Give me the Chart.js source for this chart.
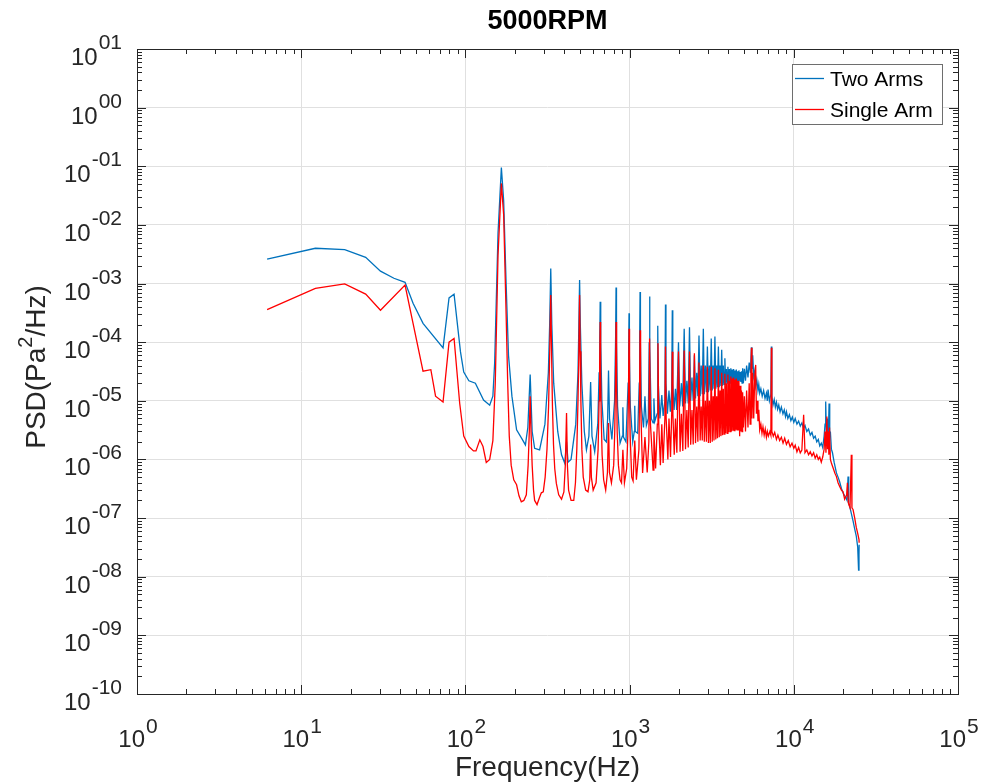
<!DOCTYPE html>
<html>
<head>
<meta charset="utf-8">
<title>5000RPM</title>
<script src="https://cdn.jsdelivr.net/npm/chart.js@4"></script>
<style>
  body { margin: 0; background: #ffffff; }
  canvas { display: block; }
</style>
</head>
<body>
<canvas id="psdChart" width="982" height="784"></canvas>
<script>
// Axis decades (exponents) and how MATLAB prints them
const xTickExps = [0, 1, 2, 3, 4, 5];
const xTickLabels = ["0", "1", "2", "3", "4", "5"];
const yTickExps = [1, 0, -1, -2, -3, -4, -5, -6, -7, -8, -9, -10];
const yTickLabels = ["01", "00", "-01", "-02", "-03", "-04", "-05", "-06", "-07", "-08", "-09", "-10"];

const seriesNames = ["Two Arms", "Single Arm"];
const seriesColors = ["#0072BD", "#FF0000"];

// [frequency Hz, PSD Pa^2/Hz]
const twoArms = [
  [6.2, 2.6e-3], [12.2, 4.0e-3], [18.4, 3.8e-3], [24.7, 2.8e-3], [30.4, 1.63e-3], [36.7, 1.23e-3],
  [42.9, 1.05e-3], [48, 4.6e-4], [55.2, 2.1e-4], [73.1, 8e-5], [79.5, 5.7e-4], [85.3, 6.6e-4],
  [93.3, 6.9e-5], [97.7, 3.1e-5], [105, 2.2e-5], [115, 2.0e-5], [129, 1.03e-5], [140.6, 8.4e-6],
  [147, 1.2e-5], [150.7, 4.4e-5], [158, 7.2e-3], [165.6, 0.095], [171, 2.6e-2], [177, 1e-3],
  [183, 6e-5], [192, 1.2e-5], [205, 3.2e-6], [222, 2.2e-6], [232, 1.77e-6], [240, 3.5e-6],
  [248, 2.8e-5], [255, 3e-6], [264, 1.55e-6], [283, 1.46e-6], [305, 4e-6], [320, 3e-5],
  [326, 2e-4], [331, 1.8e-3], [336, 2e-4], [345, 2e-5], [365, 3e-6], [385, 1.2e-6],
  [403, 8.6e-7], [413, 2e-6], [422, 9e-7], [440, 1e-6], [470, 4e-6], [485, 3e-5],
  [491, 2e-4], [496, 1.15e-3], [501, 2e-4], [512, 2e-5], [530, 3e-6], [546, 1.46e-6],
  [565, 2.5e-6], [579, 2.1e-5], [590, 2.5e-6], [613, 1.36e-6], [640, 4e-6], [652, 3e-5],
  [658, 1e-4], [662, 4.9e-4], [667, 1e-4], [678, 1e-5], [700, 2.2e-6], [722, 2e-6],
  [735, 5e-6], [744, 3.3e-5], [755, 5e-6], [780, 2.2e-6], [810, 1e-5], [822, 1.2e-4],
  [827, 8.6e-4], [832, 1e-4], [845, 8e-6], [875, 1.9e-6], [903, 2.5e-6], [910, 7.8e-6],
  [918, 2.4e-6], [950, 2e-6], [980, 2e-5], [987, 8e-5], [992, 3.1e-4], [997, 6e-5],
  [1010, 8e-6], [1045, 2e-6], [1068, 3e-6], [1075, 8.2e-6], [1083, 3e-6], [1120, 2.8e-6],
  [1145, 2e-5], [1152, 1.2e-4], [1158, 7.2e-4], [1164, 1e-4], [1180, 8e-6], [1215, 3.5e-6],
  [1240, 1.2e-5], [1265, 3.8e-6], [1300, 5e-6], [1317, 1e-4], [1323, 6e-4], [1330, 8e-5],
  [1355, 5e-6], [1390, 4.2e-6], [1406, 1.1e-5], [1425, 4.5e-6], [1470, 6e-6], [1484, 1.9e-4],
  [1495, 2e-5], [1530, 5e-6], [1571, 1.25e-5], [1600, 5.5e-6], [1640, 1e-5], [1654, 4.4e-4],
  [1665, 2e-5], [1700, 6e-6], [1737, 1.5e-5], [1770, 6.5e-6], [1805, 1.5e-5], [1820, 3.5e-4],
  [1832, 2e-5], [1865, 7e-6], [1902, 1.6e-5], [1935, 7e-6], [1985, 1e-4], [2020, 8e-6],
  [2068, 2e-5], [2105, 8e-6], [2150, 1.7e-4], [2190, 9e-6], [2233, 2.2e-5], [2275, 9e-6],
  [2316, 1.8e-4], [2355, 1e-5], [2398, 2.5e-5], [2440, 1e-5], [2481, 6e-5], [2520, 1.1e-5],
  [2564, 3e-5], [2605, 1.2e-5], [2646, 1.3e-4], [2690, 1.2e-5], [2729, 4e-5], [2770, 1.3e-5],
  [2812, 1.7e-4], [2850, 1.3e-5], [2894, 4e-5], [2935, 1.4e-5], [2977, 8.4e-5], [3020, 1.4e-5],
  [3060, 4e-5], [3100, 1.5e-5], [3142, 1.16e-4], [3185, 1.5e-5], [3225, 4e-5], [3265, 1.6e-5],
  [3308, 1.25e-4], [3350, 1.6e-5], [3390, 4e-5], [3430, 1.7e-5], [3473, 8.4e-5], [3515, 1.7e-5],
  [3556, 4e-5], [3597, 1.8e-5], [3638, 7.4e-5], [3680, 1.8e-5], [3721, 4e-5], [3760, 1.9e-5],
  [3804, 5.3e-5], [3845, 1.9e-5], [3887, 3.5e-5], [3930, 2e-5], [3969, 3.8e-5], [4010, 2e-5],
  [4052, 3.5e-5], [4095, 2e-5], [4135, 3.6e-5], [4175, 2e-5], [4218, 3.4e-5], [4260, 2.1e-5],
  [4300, 3.5e-5], [4340, 2.1e-5], [4383, 3.3e-5], [4425, 2.1e-5], [4466, 3.4e-5], [4510, 2.1e-5],
  [4550, 3.2e-5], [4590, 2.2e-5], [4632, 3.3e-5], [4680, 2.2e-5], [4715, 3.1e-5], [4760, 2.1e-5],
  [4800, 3.2e-5], [4840, 2e-5], [4880, 3.6e-5], [4930, 2e-5], [5000, 3.5e-5], [5080, 2.2e-5],
  [5160, 4e-5], [5260, 2.5e-5], [5350, 4.5e-5], [5440, 3e-5], [5520, 8.2e-5], [5560, 3.5e-5],
  [5620, 6e-5], [5700, 2.6e-5], [5780, 3.2e-5], [5860, 1.8e-5], [5950, 2.3e-5], [6050, 1.5e-5],
  [6120, 1.9e-5], [6200, 1.35e-5], [6300, 1.6e-5], [6420, 1.2e-5], [6550, 1.5e-5], [6680, 1.1e-5],
  [6810, 1.35e-5], [6900, 1.0e-5], [6970, 1.55e-5], [7100, 1.0e-5], [7250, 1.3e-5], [7300, 8.4e-5],
  [7350, 1.2e-5], [7470, 8.5e-6], [7600, 1.05e-5], [7720, 7.8e-6], [7840, 9.5e-6], [7970, 7.2e-6],
  [8100, 8.5e-6], [8250, 6.5e-6], [8400, 7.8e-6], [8590, 6e-6], [8750, 7e-6], [8900, 5.4e-6],
  [9020, 6.5e-6], [9200, 5e-6], [9400, 5.8e-6], [9600, 4.6e-6], [9800, 5.3e-6], [10000, 4.3e-6],
  [10200, 5e-6], [10450, 4e-6], [10700, 4.5e-6], [10950, 3.7e-6], [11200, 4.2e-6], [11450, 3.4e-6],
  [11700, 3.8e-6], [12000, 3e-6], [12300, 3.3e-6], [12600, 2.6e-6], [12900, 2.9e-6], [13200, 2.3e-6],
  [13500, 2.5e-6], [13800, 2e-6], [14100, 2.2e-6], [14390, 1.7e-6], [14700, 1.9e-6], [15000, 1.6e-6],
  [15300, 2.5e-6], [15500, 4e-6], [15640, 9.7e-6], [15800, 2.5e-6], [16000, 5e-6], [16200, 2e-6],
  [16400, 9e-6], [16550, 2.5e-6], [16700, 3e-6], [16940, 1.5e-6], [17200, 1.3e-6], [17600, 9e-7],
  [18180, 5.9e-7], [18600, 5e-7], [19000, 4.2e-7], [19500, 3.2e-7], [19950, 2.7e-7], [20400, 2.4e-7],
  [20800, 2.2e-7], [21100, 2e-7], [21400, 5.1e-7], [21600, 1.8e-7], [22000, 1.5e-7], [22400, 1.2e-7],
  [22950, 9e-8], [23500, 6.5e-8], [24000, 5e-8], [24500, 3.2e-8], [24800, 1.3e-8], [24950, 2.4e-8],
  [25000, 3.5e-8]
];

const singleArm = [
  [6.2, 3.6e-4], [12.2, 8.3e-4], [18.4, 9.9e-4], [24.7, 6.6e-4], [30.4, 3.5e-4], [42.9, 9.4e-4],
  [48, 2.1e-4], [55.2, 3.2e-5], [61.6, 3.4e-5], [65.8, 1.2e-5], [73.1, 9.5e-6], [79.5, 1.0e-4],
  [85.3, 1.16e-4], [92.3, 9.1e-6], [97.7, 2.5e-6], [105, 1.66e-6], [112, 1.4e-6], [116, 1.4e-6],
  [122.4, 2.16e-6], [128, 1.66e-6], [134, 8.9e-7], [140.6, 1.0e-6], [147, 2.1e-6], [152, 2e-5],
  [158, 3e-3], [165.6, 0.051], [171, 1.5e-2], [177, 3e-4], [181, 2e-5], [185, 2.5e-6],
  [190, 8e-7], [197, 4.5e-7], [205, 3.7e-7], [212, 2.4e-7], [219, 1.9e-7], [227, 2e-7],
  [235, 2.5e-7], [241, 8e-7], [245, 3e-6], [248, 1.2e-5], [251, 3e-6], [255, 8e-7],
  [260, 3e-7], [264, 2e-7], [273, 1.7e-7], [282, 2.2e-7], [290, 2.7e-7], [298, 2.8e-7],
  [306, 5e-7], [314, 1.5e-6], [321, 8e-6], [326, 6e-5], [331, 6.4e-4], [335, 6e-5],
  [339, 8e-6], [344, 1.8e-6], [350, 7e-7], [358, 3.9e-7], [370, 2.5e-7], [385, 2.1e-7],
  [398, 2.8e-7], [406, 8e-7], [413, 6.2e-6], [418, 8e-7], [425, 3e-7], [440, 2e-7],
  [457, 2e-7], [468, 4e-7], [477, 1.5e-6], [485, 1e-5], [491, 7e-5], [496, 6.4e-4],
  [500, 7e-5], [505, 1e-5], [512, 1.5e-6], [522, 5e-7], [540, 3e-7], [558, 2.8e-7],
  [572, 4.5e-7], [579, 1.8e-6], [585, 5e-7], [600, 3e-7], [625, 4e-7], [643, 1.5e-6],
  [652, 1e-5], [657, 4e-5], [662, 2.2e-4], [666, 3e-5], [672, 5e-6], [680, 1.2e-6],
  [695, 4.5e-7], [715, 3e-7], [733, 6e-7], [744, 4.2e-6], [754, 6e-7], [775, 4e-7],
  [800, 8e-7], [812, 3e-6], [820, 2e-5], [827, 2.2e-4], [833, 2e-5], [840, 3e-6],
  [855, 8e-7], [875, 4.5e-7], [893, 4e-7], [910, 1.46e-6], [930, 4e-7], [960, 7e-7],
  [975, 2.5e-6], [985, 1.5e-5], [992, 1.7e-4], [999, 1.5e-5], [1008, 2.5e-6], [1030, 5e-7],
  [1050, 4.3e-7], [1075, 2.1e-6], [1100, 4.5e-7], [1140, 1.5e-6], [1150, 1.5e-5], [1158, 1.6e-4],
  [1166, 1e-5], [1200, 5.9e-7], [1240, 2.4e-6], [1280, 6e-7], [1310, 2e-6], [1323, 1.16e-4],
  [1340, 4e-6], [1390, 6.6e-7], [1406, 3e-6], [1440, 7e-7], [1475, 4e-6], [1489, 9.6e-5],
  [1505, 4e-6], [1540, 8e-7], [1571, 4e-6], [1600, 8.7e-7], [1640, 5e-6], [1654, 8.4e-5],
  [1670, 5e-6], [1710, 1e-6], [1737, 5e-6], [1775, 1.1e-6], [1805, 6e-6], [1820, 6.9e-5],
  [1835, 6e-6], [1870, 1.2e-6], [1902, 5e-6], [1940, 1.3e-6], [1985, 6.9e-5], [2030, 1.36e-6],
  [2068, 6e-6], [2110, 1.4e-6], [2150, 7.2e-5], [2190, 1.5e-6], [2233, 7e-6], [2275, 1.6e-6],
  [2316, 6.9e-5], [2355, 1.78e-6], [2398, 7e-6], [2440, 1.8e-6], [2481, 6.5e-5], [2520, 1.9e-6],
  [2564, 8e-6], [2605, 2e-6], [2646, 4.5e-5], [2690, 2.1e-6], [2729, 8e-6], [2770, 2.1e-6],
  [2812, 4e-5], [2850, 2e-6], [2894, 1e-5], [2935, 2e-6], [2977, 3.8e-5], [3020, 1.9e-6],
  [3060, 1e-5], [3100, 1.9e-6], [3142, 3.8e-5], [3185, 2e-6], [3225, 1.2e-5], [3265, 2.1e-6],
  [3308, 3.6e-5], [3350, 2.2e-6], [3390, 1.2e-5], [3430, 2.3e-6], [3473, 3.4e-5], [3515, 2.4e-6],
  [3556, 1.5e-5], [3597, 2.5e-6], [3638, 3e-5], [3680, 2.6e-6], [3721, 1.6e-5], [3760, 2.7e-6],
  [3804, 2.9e-5], [3845, 2.8e-6], [3887, 2e-5], [3930, 2.8e-6], [3969, 2.8e-5], [4010, 2.9e-6],
  [4052, 2.2e-5], [4095, 3e-6], [4135, 2.6e-5], [4175, 3e-6], [4218, 2.4e-5], [4260, 3.1e-6],
  [4300, 2.5e-5], [4340, 3.1e-6], [4383, 2.3e-5], [4425, 3.2e-6], [4466, 2.4e-5], [4510, 3.2e-6],
  [4550, 2.2e-5], [4590, 3.2e-6], [4632, 2.2e-5], [4680, 2.5e-6], [4715, 1.8e-5], [4760, 3e-6],
  [4800, 1.5e-5], [4840, 3e-6], [4880, 1.4e-5], [4930, 3.5e-6], [5000, 1.2e-5], [5080, 3e-6],
  [5160, 1.5e-5], [5260, 3.5e-6], [5350, 2e-5], [5420, 4e-6], [5480, 3e-5], [5520, 8e-5],
  [5560, 5e-6], [5620, 3e-5], [5700, 5e-6], [5780, 2.5e-5], [5860, 4.1e-5], [5920, 6e-6],
  [6000, 1e-5], [6050, 4.5e-6], [6120, 7e-6], [6200, 3.2e-6], [6300, 4e-6], [6400, 2.8e-6],
  [6490, 3.6e-6], [6600, 2.6e-6], [6700, 3.3e-6], [6810, 2.4e-6], [6900, 3e-6], [7000, 2.5e-6],
  [7150, 3e-6], [7250, 2.6e-6], [7300, 8e-5], [7350, 3e-6], [7500, 2.5e-6], [7650, 2.9e-6],
  [7840, 2.2e-6], [8000, 2.6e-6], [8200, 2.1e-6], [8400, 2.4e-6], [8600, 1.9e-6], [8800, 2.3e-6],
  [9020, 1.8e-6], [9250, 2.1e-6], [9500, 1.65e-6], [9750, 1.9e-6], [10000, 1.55e-6], [10200, 1.75e-6],
  [10450, 1.35e-6], [10700, 1.6e-6], [10950, 1.3e-6], [11200, 1.45e-6], [11480, 5.8e-6], [11700, 1.3e-6],
  [12000, 1.45e-6], [12300, 1.2e-6], [12600, 1.35e-6], [12900, 1.15e-6], [13200, 1.3e-6], [13500, 1.05e-6],
  [13800, 1.2e-6], [14100, 1.0e-6], [14390, 1.1e-6], [14700, 9e-7], [15000, 1.1e-6], [15300, 1.5e-6],
  [15500, 3e-6], [15700, 1.3e-6], [15900, 5.4e-6], [16050, 1.5e-6], [16200, 3e-6], [16350, 1.2e-6],
  [16500, 3.5e-6], [16700, 1e-6], [16940, 8.7e-7], [17400, 7e-7], [17800, 5.8e-7], [18180, 5.1e-7],
  [18600, 4e-7], [19000, 3.5e-7], [19500, 3e-7], [19950, 2.8e-7], [20400, 2.1e-7], [21000, 2.5e-7],
  [21200, 4e-7], [21500, 1.8e-7], [22000, 1.5e-7], [22400, 1.2e-6], [22600, 1.5e-7], [22950, 1.4e-7],
  [23500, 1e-7], [24000, 7e-8], [24500, 5.5e-8], [24950, 4.3e-8], [25000, 3.8e-8]
];

const FONT = '"Liberation Sans", Arial, Helvetica, sans-serif';
const AXIS_COLOR = "#262626";

function toPoints(pairs) {
    return pairs.map(p => ({ x: p[0], y: p[1] }));
}

// "10" with a raised exponent, MATLAB style
function drawPower(ctx, exp, x, baseY, supY, align) {
    ctx.font = "24px " + FONT;
    const wBase = ctx.measureText("10").width;
    ctx.font = "21px " + FONT;
    const wExp = ctx.measureText(exp).width;
    const total = wBase + 1 + wExp;
    const x0 = align === "right" ? x - total : x - total / 2;
    ctx.textAlign = "left";
    ctx.textBaseline = "alphabetic";
    ctx.font = "24px " + FONT;
    ctx.fillText("10", x0, baseY);
    ctx.font = "21px " + FONT;
    ctx.fillText(exp, x0 + wBase + 1, supY);
}

// box, inward ticks, tick labels, titles and legend
const matlabAxes = {
    id: "matlabAxes",
    afterDraw(chart) {
        const ctx = chart.ctx;
        const area = chart.chartArea;
        const xs = chart.scales.x;
        const ys = chart.scales.y;
        ctx.save();

        ctx.strokeStyle = AXIS_COLOR;
        ctx.lineWidth = 1;
        ctx.beginPath();
        // x ticks, bottom and top
        xTickExps.forEach((e, i) => {
            for (let k = 1; k <= 9; k++) {
                if (i === xTickExps.length - 1 && k > 1) break;
                const px = Math.round(xs.getPixelForValue(k * Math.pow(10, e))) + 0.5;
                const len = k === 1 ? 9 : 5;
                ctx.moveTo(px, area.bottom); ctx.lineTo(px, area.bottom - len);
                ctx.moveTo(px, area.top); ctx.lineTo(px, area.top + len);
            }
        });
        // y ticks, left and right
        yTickExps.forEach((e, i) => {
            for (let k = 1; k <= 9; k++) {
                if (i === 0 && k > 1) break;
                const py = Math.round(ys.getPixelForValue(k * Math.pow(10, e))) + 0.5;
                const len = k === 1 ? 9 : 5;
                ctx.moveTo(area.left, py); ctx.lineTo(area.left + len, py);
                ctx.moveTo(area.right, py); ctx.lineTo(area.right - len, py);
            }
        });
        ctx.stroke();
        ctx.strokeRect(Math.round(area.left) + 0.5, Math.round(area.top) + 0.5,
            Math.round(area.right - area.left), Math.round(area.bottom - area.top));

        // tick labels
        ctx.fillStyle = AXIS_COLOR;
        xTickExps.forEach((e, i) => {
            const px = xs.getPixelForValue(Math.pow(10, e));
            drawPower(ctx, xTickLabels[i], px + 1, 747, 733, "center");
        });
        yTickExps.forEach((e, i) => {
            const py = ys.getPixelForValue(Math.pow(10, e));
            drawPower(ctx, yTickLabels[i], 122, py + 16, py, "right");
        });

        // title and axis labels
        const cx = (area.left + area.right) / 2;
        ctx.fillStyle = "#000000";
        ctx.textAlign = "center";
        ctx.font = "bold 27px " + FONT;
        ctx.fillText("5000RPM", cx, 29);

        ctx.fillStyle = AXIS_COLOR;
        ctx.font = "28px " + FONT;
        ctx.fillText("Frequency(Hz)", cx, 776);

        ctx.save();
        ctx.translate(45, 367);
        ctx.rotate(-Math.PI / 2);
        ctx.font = "28px " + FONT;
        const wA = ctx.measureText("PSD(Pa").width;
        const wC = ctx.measureText("/Hz)").width;
        ctx.font = "20px " + FONT;
        const wB = ctx.measureText("2").width;
        const tx = -(wA + wB + wC) / 2;
        ctx.textAlign = "left";
        ctx.font = "28px " + FONT;
        ctx.fillText("PSD(Pa", tx, 0);
        ctx.font = "20px " + FONT;
        ctx.fillText("2", tx + wA, -13);
        ctx.font = "28px " + FONT;
        ctx.fillText("/Hz)", tx + wA + wB, 0);
        ctx.restore();

        // legend
        ctx.fillStyle = "#ffffff";
        ctx.fillRect(792, 64, 151, 60);
        ctx.strokeStyle = "#6e6e6e";
        ctx.strokeRect(792.5, 64.5, 150, 60);
        ctx.font = "21px " + FONT;
        ctx.textAlign = "left";
        seriesNames.forEach((name, i) => {
            const ly = 78.5 + i * 31;
            ctx.strokeStyle = seriesColors[i];
            ctx.lineWidth = 1.3;
            ctx.beginPath();
            ctx.moveTo(795, ly); ctx.lineTo(824, ly);
            ctx.stroke();
            ctx.fillStyle = "#000000";
            ctx.fillText(name, 830, ly + 7.5);
        });

        ctx.restore();
    }
};

const decadeTicks = exps => scale => {
    scale.ticks = exps.map(e => ({ value: Math.pow(10, e) }));
};

const chart = new Chart(document.getElementById("psdChart").getContext("2d"), {
    type: "line",
    data: {
        datasets: [
            {
                label: seriesNames[0],
                data: toPoints(twoArms),
                borderColor: seriesColors[0],
                borderWidth: 1.3,
                pointRadius: 0,
                tension: 0,
                order: 1
            },
            {
                label: seriesNames[1],
                data: toPoints(singleArm),
                borderColor: seriesColors[1],
                borderWidth: 1.3,
                pointRadius: 0,
                tension: 0,
                order: 0 // red drawn over blue
            }
        ]
    },
    options: {
        responsive: false,
        animation: false,
        devicePixelRatio: 1,
        layout: { padding: { left: 137, top: 49, right: 24, bottom: 90 } },
        plugins: {
            legend: { display: false },
            tooltip: { enabled: false },
            title: { display: false }
        },
        scales: {
            x: {
                type: "logarithmic",
                min: 1,
                max: 1e5,
                afterBuildTicks: decadeTicks(xTickExps),
                ticks: { display: false },
                grid: { color: "#e0e0e0", drawTicks: false },
                border: { display: false }
            },
            y: {
                type: "logarithmic",
                min: 1e-10,
                max: 10,
                afterBuildTicks: decadeTicks(yTickExps),
                ticks: { display: false },
                grid: { color: "#e0e0e0", drawTicks: false },
                border: { display: false }
            }
        }
    },
    plugins: [matlabAxes]
});
</script>
</body>
</html>
